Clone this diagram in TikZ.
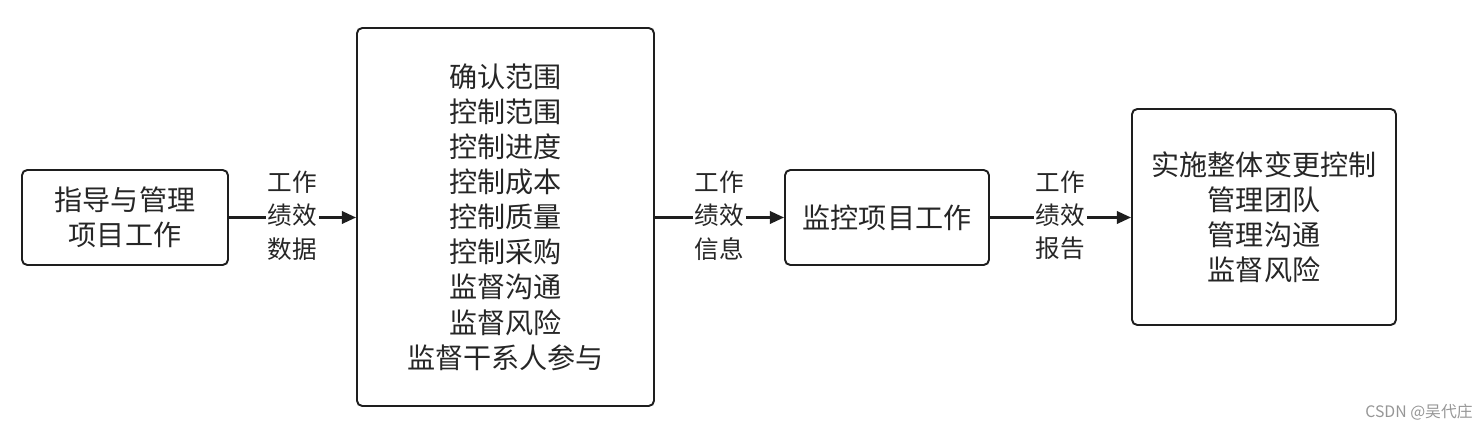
\documentclass[tikz,border=0pt]{standalone}
\usepackage{fontspec}
\setmainfont{Noto Sans CJK SC}
\definecolor{boxline}{RGB}{30,30,30}
\definecolor{wmgray}{RGB}{150,150,150}
\usetikzlibrary{arrows.meta,positioning}
\tikzset{
  procbox/.style={draw=boxline, line width=1.1pt, rounded corners=3pt, align=center, font=\fontsize{16}{20}\selectfont, text=black!85},
  flowlabel/.style={fill=white, inner sep=1pt, align=center, font=\fontsize{14}{18.8}\selectfont, text=black!85},
  flowarrow/.style={draw=boxline, line width=1.4pt, -{Triangle[length=8pt,width=7pt]}}
}
\begin{document}
\begin{tikzpicture}
  \useasboundingbox (0,0) rectangle (29.64,8.58);

  \node[procbox, minimum width=4.12cm, minimum height=1.9cm] (direct) at (2.5,4.23) {指导与管理\\项目工作};
  \node[procbox, minimum width=5.94cm, minimum height=7.56cm] (control) at (10.11,4.24)
    {确认范围\\控制范围\\控制进度\\控制成本\\控制质量\\控制采购\\监督沟通\\监督风险\\监督干系人参与};
  \node[procbox, minimum width=4.08cm, minimum height=1.9cm] (monitor) at (17.74,4.23) {监控项目工作};
  \node[procbox, minimum width=5.28cm, minimum height=4.32cm] (change) at (25.28,4.24)
    {实施整体变更控制\\管理团队\\管理沟通\\监督风险};

  \draw[flowarrow] (direct.east) -- node[flowlabel, yshift=1pt] {工作\\绩效\\数据} (direct.east -| control.west);
  \draw[flowarrow] (control.east |- monitor.west) -- node[flowlabel, yshift=1pt] {工作\\绩效\\信息} (monitor.west);
  \draw[flowarrow] (monitor.east) -- node[flowlabel, yshift=1pt] {工作\\绩效\\报告} (monitor.east -| change.west);

  \node[font=\fontsize{9}{11}\selectfont, text=wmgray] (mark) at (28.38,0.34) {CSDN @吴代庄};
\end{tikzpicture}
\end{document}
